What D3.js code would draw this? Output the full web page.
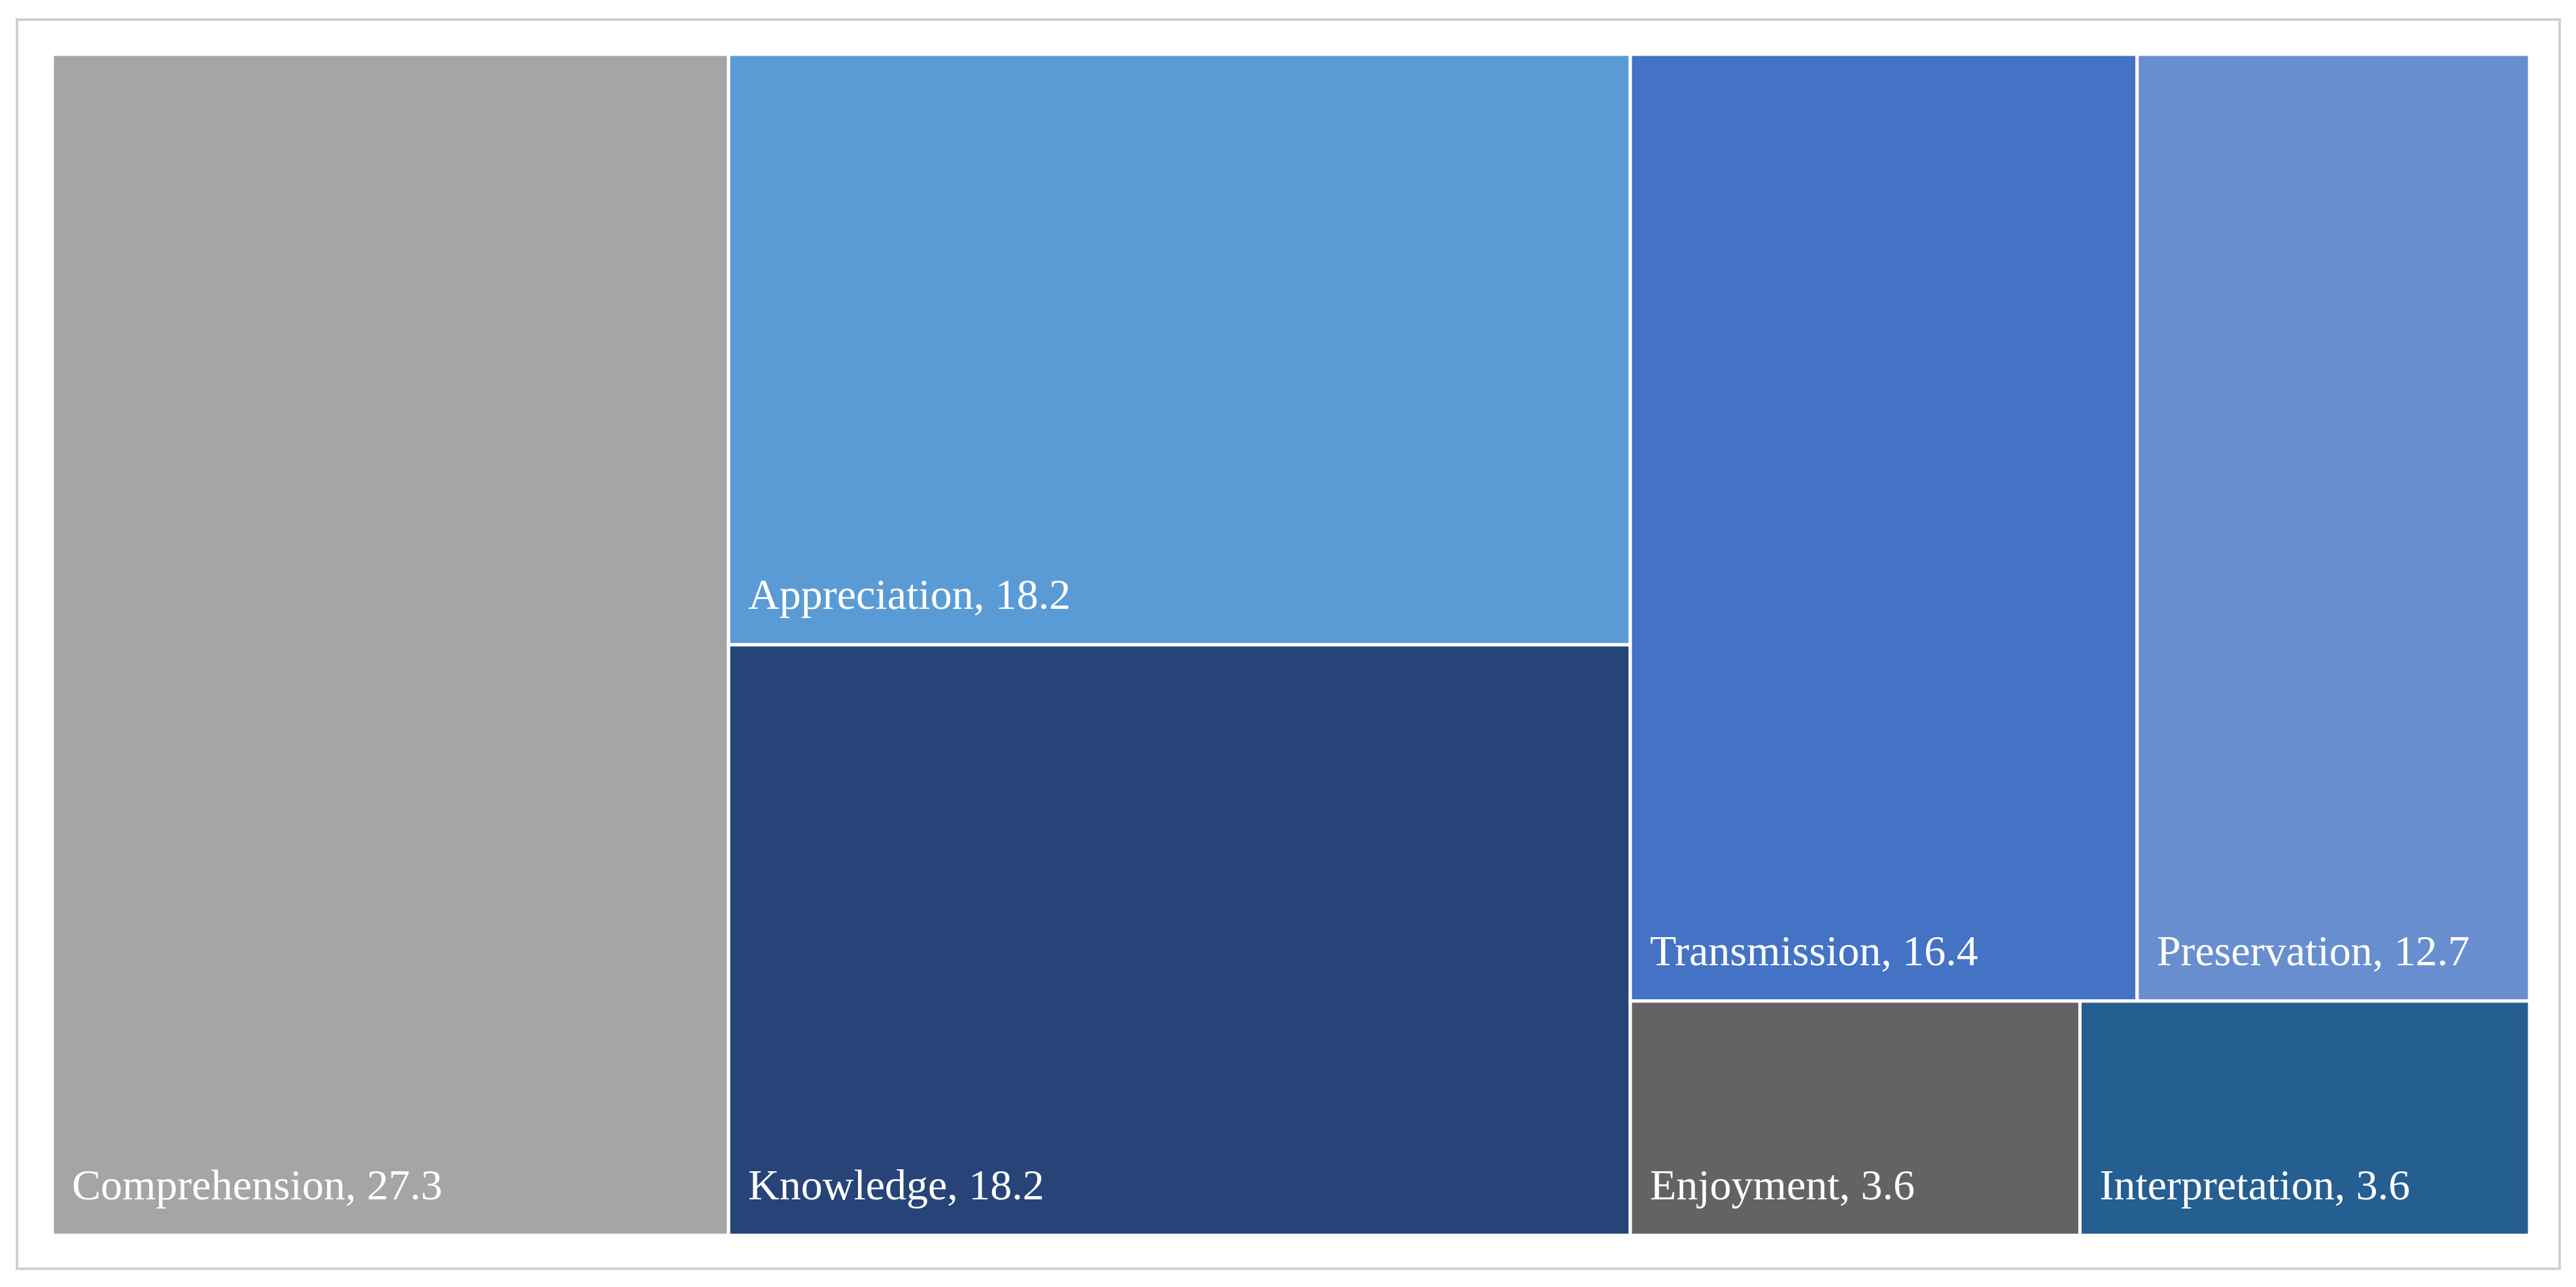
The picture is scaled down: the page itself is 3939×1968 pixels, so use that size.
<!DOCTYPE html>
<html><head><meta charset="utf-8">
<script src="https://cdn.jsdelivr.net/npm/d3@7"></script>
<style>body{margin:0;background:#fff}</style>
</head><body><svg id="chart"></svg>
<script>
(() => {
    const W = 3939, H = 1968;
    const categories = ["Comprehension", "Appreciation", "Knowledge", "Transmission", "Preservation", "Enjoyment", "Interpretation"];
    const values = [27.3, 18.2, 18.2, 16.4, 12.7, 3.6, 3.6];
    const colors = ["#a5a5a7", "#5b9bd5", "#264478", "#4472c4", "#698ed0", "#636365", "#255e91"];

    const leaf = i => ({name: categories[i], value: values[i], color: colors[i]});
    const data = {dir: "dice", children: [
        leaf(0),
        {dir: "slice", children: [leaf(1), leaf(2)]},
        {dir: "slice", children: [
            {dir: "dice", children: [leaf(3), leaf(4)]},
            {dir: "dice", children: [leaf(5), leaf(6)]}
        ]}
    ]};

    const svg = d3.select("#chart").attr("width", W).attr("height", H);
    svg.append("rect").attr("x", 26).attr("y", 30).attr("width", 3888).attr("height", 1910)
        .attr("fill", "#fff").attr("stroke", "#d0d0d0").attr("stroke-width", 4);

    const root = d3.hierarchy(data).sum(d => d.children ? 0 : d.value);
    d3.treemap()
        .size([3788, 1806])
        .tile((node, x0, y0, x1, y1) =>
            (node.data.dir === "slice" ? d3.treemapSlice : d3.treemapDice)(node, x0, y0, x1, y1))(root);

    const g = svg.append("g").attr("transform", "translate(80,83)");
    const cell = g.selectAll("g").data(root.leaves()).join("g");
    cell.append("rect")
        .attr("x", d => d.x0).attr("y", d => d.y0)
        .attr("width", d => d.x1 - d.x0).attr("height", d => d.y1 - d.y0)
        .attr("fill", d => d.data.color).attr("stroke", "#fff").attr("stroke-width", 5);

    const fontSize = 66;
    cell.each(function(d) {
        const label = `${d.data.name}, ${d.data.value}`;
        const t = d3.select(this).append("text")
            .attr("font-family", "'Liberation Serif', 'DejaVu Serif', serif")
            .attr("font-size", fontSize).attr("fill", "#fff");
        t.text(label);
        const w = t.node().getComputedTextLength();
        if (w > d.x1 - d.x0 - 60) {
            // wrap to two centred lines
            t.text(null).attr("text-anchor", "middle");
            const cx = d.x0 + 30 + (w - (`${d.data.value}`.length * 0)) * 0;
            const mid = (d.x0 + d.x1) / 2 - 20;
            t.append("tspan").attr("x", mid).attr("y", d.y1 - 163).text(`${d.data.name},`);
            t.append("tspan").attr("x", mid).attr("y", d.y1 - 55).text(`${d.data.value}`);
        } else {
            t.attr("x", d.x0 + 30).attr("y", d.y1 - 55);
        }
    });
})();
</script>
</body></html>
